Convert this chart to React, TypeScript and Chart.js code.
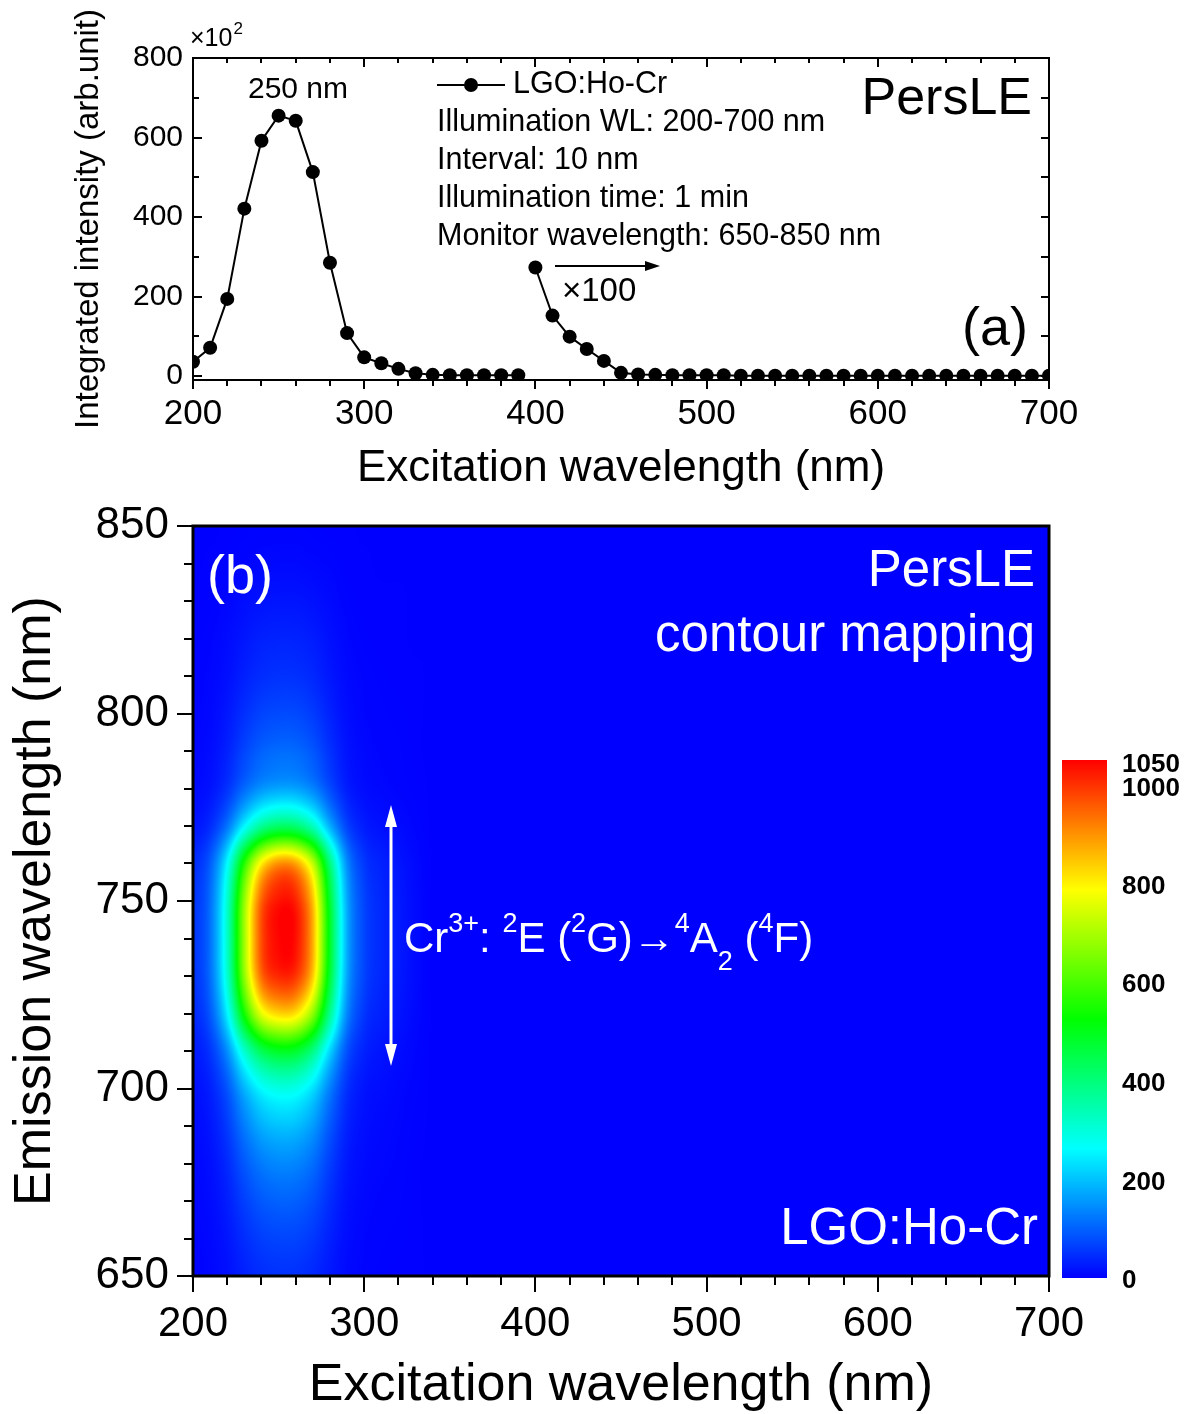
import React, { useEffect, useRef } from "react";
import { Chart, registerables } from "chart.js";
Chart.register(...registerables);

const FONT = '"Liberation Sans", Arial, Helvetica, sans-serif';

// ---------- Panel (a): PersLE excitation spectrum ----------
const EXC_MAIN_NM = [200, 210, 220, 230, 240, 250, 260, 270, 280, 290, 300, 310, 320, 330, 340, 350, 360, 370, 380, 390];
const INTENSITY_MAIN = [36, 71, 194, 421, 592, 655, 642, 513, 285, 108, 47, 32, 18, 7, 3, 2, 2, 2, 2, 2];
const EXC_X100_NM = [400, 410, 420, 430, 440, 450, 460, 470, 480, 490, 500, 510, 520, 530, 540, 550, 560, 570, 580, 590, 600, 610, 620, 630, 640, 650, 660, 670, 680, 690, 700];
const INTENSITY_X100 = [273, 152, 99, 68, 38, 8, 4, 3, 2, 2, 2, 2, 1, 1, 1, 1, 1, 1, 1, 1, 1, 1, 1, 1, 1, 1, 1, 1, 1, 1, 1];
const A_X_TICKS = [200, 300, 400, 500, 600, 700];
const A_Y_TICKS = [0, 200, 400, 600, 800];

// ---------- Panel (b): PersLE contour map ----------
const EXCITATION_GRID_NM = [200, 210, 220, 230, 240, 250, 260, 270, 280, 290, 300, 310, 320, 330, 340, 350];
const EMISSION_GRID_NM = [650, 660, 670, 680, 690, 700, 710, 720, 730, 740, 750, 760, 770, 780, 790, 800, 810, 820, 830, 840, 850];
const PERSLE_MAP = [
  [3, 6, 15, 32, 45, 50, 49, 40, 23, 9, 4, 2, 1, 1, 0, 0],
  [4, 8, 21, 45, 63, 70, 69, 56, 32, 12, 5, 3, 2, 1, 0, 0],
  [5, 11, 30, 64, 90, 100, 98, 80, 45, 17, 7, 4, 3, 1, 0, 0],
  [7, 15, 42, 90, 126, 140, 137, 112, 63, 24, 10, 6, 4, 1, 0, 0],
  [10, 22, 60, 128, 180, 200, 196, 160, 90, 34, 14, 8, 5, 2, 0, 0],
  [15, 32, 87, 186, 261, 290, 284, 232, 131, 49, 20, 12, 7, 3, 0, 0],
  [25, 54, 147, 314, 441, 490, 480, 392, 221, 83, 34, 20, 12, 5, 0, 0],
  [40, 90, 250, 540, 760, 830, 815, 670, 380, 140, 55, 32, 20, 8, 0, 0],
  [50, 112, 310, 670, 940, 1010, 995, 840, 470, 172, 69, 39, 25, 10, 0, 0],
  [53, 116, 320, 690, 970, 1045, 1035, 870, 490, 180, 72, 41, 26, 10, 0, 0],
  [51, 113, 312, 675, 950, 1030, 1015, 850, 475, 175, 70, 40, 25, 10, 0, 0],
  [43, 95, 260, 560, 800, 900, 880, 720, 400, 145, 57, 33, 21, 8, 0, 0],
  [20, 44, 120, 256, 370, 420, 410, 330, 180, 68, 28, 16, 10, 4, 0, 0],
  [9, 19, 51, 109, 153, 170, 167, 136, 77, 29, 12, 7, 4, 2, 0, 0],
  [6, 12, 33, 70, 99, 110, 108, 88, 50, 19, 8, 4, 3, 1, 0, 0],
  [4, 8, 23, 48, 68, 75, 74, 60, 34, 13, 5, 3, 2, 1, 0, 0],
  [3, 6, 15, 32, 45, 50, 49, 40, 23, 9, 4, 2, 1, 1, 0, 0],
  [2, 4, 11, 22, 32, 35, 34, 28, 16, 6, 2, 1, 1, 0, 0, 0],
  [1, 2, 6, 13, 18, 20, 20, 16, 9, 3, 1, 1, 1, 0, 0, 0],
  [0, 1, 2, 5, 7, 8, 8, 6, 4, 1, 1, 0, 0, 0, 0, 0],
  [0, 0, 1, 2, 3, 3, 3, 2, 1, 1, 0, 0, 0, 0, 0, 0],
];
const B_X_TICKS = [200, 300, 400, 500, 600, 700];
const B_Y_TICKS = [650, 700, 750, 800, 850];
const COLORBAR_TICKS = [0, 200, 400, 600, 800, 1000, 1050];
const COLORBAR_MAX = 1050;

// rainbow colour map stops (value, r, g, b)
const CMAP_STOPS = [
  [0, 0, 0, 255],
  [262.5, 0, 255, 255],
  [525, 0, 255, 0],
  [787.5, 255, 255, 0],
  [1050, 255, 0, 0],
];

function cmap(v: number): [number, number, number] {
  if (v <= CMAP_STOPS[0][0]) return [CMAP_STOPS[0][1], CMAP_STOPS[0][2], CMAP_STOPS[0][3]];
  for (let i = 1; i < CMAP_STOPS.length; i++) {
    const a = CMAP_STOPS[i - 1], b = CMAP_STOPS[i];
    if (v <= b[0]) {
      const t = (v - a[0]) / (b[0] - a[0]);
      return [a[1] + (b[1] - a[1]) * t, a[2] + (b[2] - a[2]) * t, a[3] + (b[3] - a[3]) * t];
    }
  }
  const l = CMAP_STOPS[CMAP_STOPS.length - 1];
  return [l[1], l[2], l[3]];
}

function cubic(p0: number, p1: number, p2: number, p3: number, t: number) {
  return p1 + 0.5 * t * (p2 - p0 + t * (2 * p0 - 5 * p1 + 4 * p2 - p3 + t * (3 * (p1 - p2) + p3 - p0)));
}

function mapValue(ex: number, em: number) {
  const nx = EXCITATION_GRID_NM.length, ny = EMISSION_GRID_NM.length;
  const dx = EXCITATION_GRID_NM[1] - EXCITATION_GRID_NM[0];
  const dy = EMISSION_GRID_NM[1] - EMISSION_GRID_NM[0];
  const fx = (ex - EXCITATION_GRID_NM[0]) / dx;
  const fy = (em - EMISSION_GRID_NM[0]) / dy;
  if (fx > nx - 1) return 0;
  const ix = Math.max(0, Math.min(nx - 2, Math.floor(fx)));
  const iy = Math.max(0, Math.min(ny - 2, Math.floor(fy)));
  const tx = Math.max(0, Math.min(1, fx - ix));
  const ty = Math.max(0, Math.min(1, fy - iy));
  const get = (i: number, j: number) => PERSLE_MAP[Math.max(0, Math.min(ny - 1, j))][Math.max(0, Math.min(nx - 1, i))];
  const r: number[] = [];
  for (let j = iy - 1; j <= iy + 2; j++) r.push(cubic(get(ix - 1, j), get(ix, j), get(ix + 1, j), get(ix + 2, j), tx));
  return Math.max(0, cubic(r[0], r[1], r[2], r[3], ty));
}

function txt(ctx: CanvasRenderingContext2D, s: string, x: number, y: number, size: number,
  align: CanvasTextAlign = "left", color = "#000", weight = "normal", baseline: CanvasTextBaseline = "middle") {
  ctx.font = `${weight} ${size}px ${FONT}`;
  ctx.fillStyle = color;
  ctx.textAlign = align;
  ctx.textBaseline = baseline;
  ctx.fillText(s, x, y);
}

const TOP_H = 495;
const BOT_TOP = 466;
const BOT_H = 1414 - BOT_TOP;

const topPlugin = {
  id: "topDeco",
  afterDraw(chart: any) {
    const { ctx, chartArea: a, scales } = chart;
    const x = scales.x, y = scales.y;
    ctx.save();
    ctx.strokeStyle = "#000";
    ctx.lineWidth = 2;
    ctx.strokeRect(a.left, a.top, a.right - a.left, a.bottom - a.top);
    ctx.beginPath();
    for (let v = 200; v <= 700; v += 20) {
      const px = Math.round(x.getPixelForValue(v));
      const major = v % 100 === 0;
      ctx.moveTo(px, a.bottom); ctx.lineTo(px, a.bottom + (major ? 9 : 6));
      ctx.moveTo(px, a.top); ctx.lineTo(px, a.top + (major ? 9 : 5));
    }
    for (let v = 0; v <= 800; v += 100) {
      const py = Math.round(y.getPixelForValue(v));
      const major = v % 200 === 0;
      ctx.moveTo(a.left, py); ctx.lineTo(a.left + (major ? 9 : 6), py);
      ctx.moveTo(a.right, py); ctx.lineTo(a.right - 8, py);
    }
    ctx.stroke();

    // ×10^2
    txt(ctx, "×10", 190, 46, 25, "left", "#000", "normal", "alphabetic");
    ctx.font = `25px ${FONT}`;
    const w10 = ctx.measureText("×10").width;
    txt(ctx, "2", 190 + w10 + 1, 34, 17, "left", "#000", "normal", "alphabetic");

    // peak label
    txt(ctx, "250 nm", 298, 90, 30, "center");

    // legend
    ctx.beginPath();
    ctx.lineWidth = 2;
    ctx.moveTo(437, 85); ctx.lineTo(505, 85);
    ctx.stroke();
    ctx.beginPath();
    ctx.fillStyle = "#000";
    ctx.arc(471, 85, 7, 0, Math.PI * 2);
    ctx.fill();
    txt(ctx, "LGO:Ho-Cr", 513, 85, 30.5);
    txt(ctx, "Illumination WL: 200-700 nm", 437, 123, 30.5);
    txt(ctx, "Interval: 10 nm", 437, 161, 30.5);
    txt(ctx, "Illumination time: 1 min", 437, 199, 30.5);
    txt(ctx, "Monitor wavelength: 650-850 nm", 437, 237, 30.5);

    txt(ctx, "PersLE", 1032, 100, 52, "right");
    txt(ctx, "(a)", 1028, 330, 54, "right");

    // ×100 arrow
    ctx.beginPath();
    ctx.lineWidth = 2;
    ctx.moveTo(555, 266); ctx.lineTo(648, 266);
    ctx.stroke();
    ctx.beginPath();
    ctx.moveTo(660, 266); ctx.lineTo(645, 261); ctx.lineTo(645, 271); ctx.closePath();
    ctx.fill();
    txt(ctx, "×100", 562, 292, 33);
    ctx.restore();
  },
};

const heatPlugin = {
  id: "heat",
  beforeDatasetsDraw(chart: any) {
    const { ctx, chartArea: a, scales } = chart;
    const x = scales.x, y = scales.y;
    const L = Math.round(a.left), T = Math.round(a.top);
    const w = Math.round(a.right) - L, h = Math.round(a.bottom) - T;
    const img = ctx.createImageData(w, h);
    const exs = new Float64Array(w);
    for (let i = 0; i < w; i++) exs[i] = x.getValueForPixel(L + i + 0.5);
    for (let j = 0; j < h; j++) {
      const em = y.getValueForPixel(T + j + 0.5);
      for (let i = 0; i < w; i++) {
        const c = cmap(mapValue(exs[i], em));
        const k = (j * w + i) * 4;
        img.data[k] = c[0]; img.data[k + 1] = c[1]; img.data[k + 2] = c[2]; img.data[k + 3] = 255;
      }
    }
    ctx.putImageData(img, L, T);
  },
  afterDraw(chart: any) {
    const { ctx, chartArea: a, scales } = chart;
    const x = scales.x, y = scales.y;
    const off = BOT_TOP;
    ctx.save();
    // frame
    ctx.strokeStyle = "#000";
    ctx.lineWidth = 3;
    ctx.strokeRect(a.left, a.top, a.right - a.left, a.bottom - a.top);
    ctx.lineWidth = 2;
    ctx.beginPath();
    for (let v = 200; v <= 700; v += 20) {
      const px = Math.round(x.getPixelForValue(v));
      const major = v % 100 === 0;
      ctx.moveTo(px, a.bottom); ctx.lineTo(px, a.bottom + (major ? 16 : 9));
    }
    for (let v = 650; v <= 850; v += 10) {
      const py = Math.round(y.getPixelForValue(v));
      const major = v % 50 === 0;
      ctx.moveTo(a.left, py); ctx.lineTo(a.left - (major ? 16 : 9), py);
    }
    ctx.stroke();

    // texts
    txt(ctx, "(b)", 207, 578 - off, 54, "left", "#fff");
    txt(ctx, "PersLE", 1035, 572 - off, 51, "right", "#fff");
    txt(ctx, "contour mapping", 1035, 637 - off, 51, "right", "#fff");
    txt(ctx, "LGO:Ho-Cr", 1038, 1230 - off, 51, "right", "#fff");

    // white double arrow
    const ax = 391, y1 = 805 - off, y2 = 1066 - off;
    ctx.strokeStyle = "#fff";
    ctx.fillStyle = "#fff";
    ctx.lineWidth = 3;
    ctx.beginPath();
    ctx.moveTo(ax, y1 + 18); ctx.lineTo(ax, y2 - 18);
    ctx.stroke();
    ctx.beginPath();
    ctx.moveTo(ax, y1); ctx.lineTo(ax - 6, y1 + 22); ctx.lineTo(ax + 6, y1 + 22); ctx.closePath(); ctx.fill();
    ctx.beginPath();
    ctx.moveTo(ax, y2); ctx.lineTo(ax - 6, y2 - 22); ctx.lineTo(ax + 6, y2 - 22); ctx.closePath(); ctx.fill();

    // Cr3+ transition label
    const segs: [string, string][] = [
      ["Cr", "n"], ["3+", "sup"], [": ", "n"], ["2", "sup"], ["E (", "n"], ["2", "sup"], ["G)→", "n"],
      ["4", "sup"], ["A", "n"], ["2", "sub"], [" (", "n"], ["4", "sup"], ["F)", "n"],
    ];
    let cx = 404;
    const base = 952 - off;
    for (const [s, k] of segs) {
      const size = k === "n" ? 42 : 27;
      const yy = k === "n" ? base : k === "sup" ? base - 20 : base + 18;
      ctx.font = `${size}px ${FONT}`;
      txt(ctx, s, cx, yy, size, "left", "#fff", "normal", "alphabetic");
      cx += ctx.measureText(s).width;
    }

    // colour bar
    const cbL = 1062, cbR = 1107, cbTop = 760 - off, cbBot = 1278 - off;
    for (let py = cbTop; py < cbBot; py++) {
      const v = ((cbBot - py - 0.5) / (cbBot - cbTop)) * COLORBAR_MAX;
      const c = cmap(v);
      ctx.fillStyle = `rgb(${c[0]},${c[1]},${c[2]})`;
      ctx.fillRect(cbL, py, cbR - cbL, 1);
    }
    for (const t of COLORBAR_TICKS) {
      const py = cbBot - (t / COLORBAR_MAX) * (cbBot - cbTop);
      const dy = t === 1050 ? 5 : t === 1000 ? 4 : 3;
      txt(ctx, String(t), 1122, py + dy, 26, "left", "#000", "bold");
    }
    ctx.restore();
  },
};

function fixedTicks(values: number[]) {
  return (s: any) => { s.ticks = values.map((v) => ({ value: v })); };
}

export default function App() {
  const topRef = useRef<HTMLCanvasElement>(null);
  const botRef = useRef<HTMLCanvasElement>(null);

  useEffect(() => {
    Chart.defaults.color = "#000";
    const top = new Chart(topRef.current!, {
      type: "line",
      data: {
        datasets: [
          {
            label: "LGO:Ho-Cr",
            data: EXC_MAIN_NM.map((v, i) => ({ x: v, y: INTENSITY_MAIN[i] })),
            borderColor: "#000", borderWidth: 2, pointRadius: 7, pointBackgroundColor: "#000",
            pointBorderWidth: 0, pointHoverRadius: 7, tension: 0, clip: 0, fill: false,
          },
          {
            label: "LGO:Ho-Cr ×100",
            data: EXC_X100_NM.map((v, i) => ({ x: v, y: INTENSITY_X100[i] })),
            borderColor: "#000", borderWidth: 2, pointRadius: 7, pointBackgroundColor: "#000",
            pointBorderWidth: 0, pointHoverRadius: 7, tension: 0, clip: 0, fill: false,
          },
        ],
      },
      options: {
        animation: false, responsive: false, maintainAspectRatio: false,
        layout: { padding: { top: 58, right: 145, left: 0, bottom: 0 } },
        plugins: { legend: { display: false }, tooltip: { enabled: false } },
        scales: {
          x: {
            type: "linear", min: 200, max: 700,
            grid: { display: false }, border: { display: false },
            afterBuildTicks: fixedTicks(A_X_TICKS),
            ticks: { font: { family: FONT, size: 35 }, color: "#000", padding: 5, maxRotation: 0, autoSkip: false },
            title: { display: true, text: "Excitation wavelength (nm)", color: "#000", font: { family: FONT, size: 44 }, padding: { top: 0, bottom: 0 } },
            afterFit: (s: any) => { s.height = TOP_H - 380; },
          },
          y: {
            type: "linear", min: -10, max: 800,
            grid: { display: false }, border: { display: false },
            afterBuildTicks: fixedTicks(A_Y_TICKS),
            ticks: { font: { family: FONT, size: 30 }, color: "#000", padding: 2, autoSkip: false },
            title: { display: true, text: "Integrated intensity (arb.unit)", color: "#000", font: { family: FONT, size: 33 }, padding: { top: 69, bottom: 0 } },
            afterFit: (s: any) => { s.width = 193; },
          },
        },
      },
      plugins: [topPlugin],
    } as any);

    const gridPoints: { x: number; y: number; v: number }[] = [];
    EMISSION_GRID_NM.forEach((em, j) => EXCITATION_GRID_NM.forEach((ex, i) => gridPoints.push({ x: ex, y: em, v: PERSLE_MAP[j][i] })));

    const bot = new Chart(botRef.current!, {
      type: "scatter",
      data: { datasets: [{ label: "PersLE map", data: gridPoints, pointRadius: 0, pointHoverRadius: 0 }] },
      options: {
        animation: false, responsive: false, maintainAspectRatio: false,
        layout: { padding: { top: 526 - BOT_TOP, right: 145, left: 0, bottom: 0 } },
        plugins: { legend: { display: false }, tooltip: { enabled: false } },
        scales: {
          x: {
            type: "linear", min: 200, max: 700,
            grid: { display: false }, border: { display: false },
            afterBuildTicks: fixedTicks(B_X_TICKS),
            ticks: { font: { family: FONT, size: 42 }, color: "#000", padding: 15, maxRotation: 0, autoSkip: false },
            title: { display: true, text: "Excitation wavelength (nm)", color: "#000", font: { family: FONT, size: 52, lineHeight: 1.1 }, padding: { top: 0, bottom: 0 } },
            afterFit: (s: any) => { s.height = BOT_H - (1276 - BOT_TOP); },
          },
          y: {
            type: "linear", min: 650, max: 850,
            grid: { display: false }, border: { display: false },
            afterBuildTicks: fixedTicks(B_Y_TICKS),
            ticks: { font: { family: FONT, size: 44 }, color: "#000", padding: 16, autoSkip: false },
            title: { display: true, text: "Emission wavelength (nm)", color: "#000", font: { family: FONT, size: 52, lineHeight: 1.1 }, padding: { top: 7, bottom: 0 } },
            afterFit: (s: any) => { s.width = 193; },
          },
        },
      },
      plugins: [heatPlugin],
    } as any);

    return () => { top.destroy(); bot.destroy(); };
  }, []);

  return (
    <div style={{ position: "absolute", left: 0, top: 0, width: 1194, height: 1414, background: "#fff" }}>
      <canvas ref={topRef} width={1194} height={TOP_H} style={{ position: "absolute", left: 0, top: 0, width: 1194, height: TOP_H }} />
      <canvas ref={botRef} width={1194} height={BOT_H} style={{ position: "absolute", left: 0, top: BOT_TOP, width: 1194, height: BOT_H }} />
    </div>
  );
}
